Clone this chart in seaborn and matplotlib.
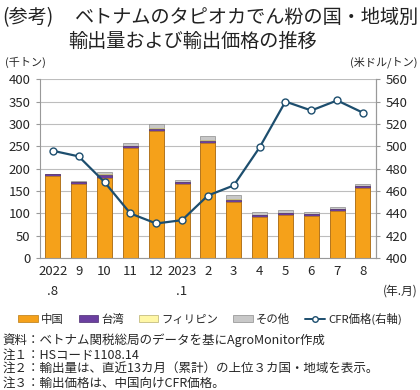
import numpy as np
import pandas as pd
import matplotlib
matplotlib.use("Agg")
import matplotlib.pyplot as plt
from matplotlib.patches import Patch
from matplotlib.lines import Line2D
import seaborn as sns

# --- data ---
months = ["2022\n.8", "9", "10", "11", "12", "2023\n.1", "2", "3", "4", "5", "6", "7", "8"]
china = [184, 166, 180, 246, 285, 166, 257, 125, 91, 97, 94, 105, 157]
taiwan = [4, 4, 5, 4, 4, 4, 5, 6, 6, 4, 4, 4, 4]
philippines = [0, 0, 3, 1, 1, 0, 3, 1, 0, 0, 0, 0, 0]
others = [1, 3, 4, 6, 9, 4, 8, 10, 7, 6, 6, 6, 5]
cfr_price = [496, 491, 468, 440, 431, 434, 456, 465, 499, 540, 532, 541, 530]

series_names = ["中国", "台湾", "フィリピン", "その他"]
colors = ["#F5A11A", "#6B3FA0", "#FFF7A6", "#C8C8C8"]
edges = ["#B97A10", "#4A2A70", "#B8B070", "#8C8C8C"]
line_color = "#1D4E6E"

sns.set_style("white")
plt.rcParams["font.family"] = ["Noto Sans CJK JP", "DejaVu Sans"]

df = pd.DataFrame({"month": months, "中国": china, "台湾": taiwan,
                   "フィリピン": philippines, "その他": others})

fig = plt.figure(figsize=(4.2, 3.9), dpi=100)
ax = fig.add_axes([0.095, 0.338, 0.80, 0.459])

# stacked bars: draw cumulative totals from the top layer down
cum = df[series_names].cumsum(axis=1)
for name, c, e in reversed(list(zip(series_names, colors, edges))):
    sns.barplot(x=df["month"], y=cum[name], color=c, edgecolor=e, linewidth=0.5,
                width=0.58, saturation=1, ax=ax, zorder=2)

ax.set_ylim(0, 400)
ax.set_yticks(np.arange(0, 401, 50))
ax.set_xlim(-0.5, len(months) - 0.5)
ax.set_xlabel("")
ax.set_ylabel("")
ax.yaxis.grid(True, color="#BDBDBD", linewidth=0.8, zorder=0)
ax.set_axisbelow(True)
ax.tick_params(axis="y", labelsize=9.5, length=3, color="#999999", pad=4)
ax.tick_params(axis="x", labelsize=9.5, length=0, pad=5)
for lab in ax.get_xticklabels():
    lab.set_linespacing(1.7)
    lab.set_verticalalignment("top")
ax.set_xticks(np.arange(-0.5, len(months)), minor=True)
ax.tick_params(axis="x", which="minor", length=3, color="#999999")
for side in ["left", "right", "bottom"]:
    ax.spines[side].set_color("#999999")
    ax.spines[side].set_linewidth(0.8)
ax.spines["top"].set_visible(False)

ax2 = ax.twinx()
sns.lineplot(x=np.arange(len(months)), y=cfr_price, ax=ax2, color=line_color,
             linewidth=1.6, marker="o", markersize=5, markerfacecolor="white",
             markeredgecolor=line_color, markeredgewidth=1.0, zorder=5)
ax2.set_ylim(400, 560)
ax2.set_yticks(np.arange(400, 561, 20))
ax2.set_xlim(-0.5, len(months) - 0.5)
ax2.tick_params(axis="y", labelsize=9.5, length=3, color="#999999", pad=4)
ax2.set_ylabel("")
for side in ["top", "left", "bottom"]:
    ax2.spines[side].set_visible(False)
ax2.spines["right"].set_color("#999999")

# titles and unit labels
fig.text(0.006, 0.955, "(参考)", fontsize=13.8,
         ha="left", va="center", color="#222222")
fig.text(0.178, 0.955, "ベトナムのタピオカでん粉の国・地域別", fontsize=13.8,
         ha="left", va="center", color="#222222")
fig.text(0.162, 0.893, "輸出量および輸出価格の推移", fontsize=13.8,
         ha="left", va="center", color="#222222")
fig.text(0.012, 0.84, "(千トン)", fontsize=8, ha="left", va="center")
fig.text(0.995, 0.84, "(米ドル/トン)", fontsize=8, ha="right", va="center")
fig.text(0.995, 0.255, "(年.月)", fontsize=8.5, ha="right", va="center")

# legend
handles = [Patch(facecolor=c, edgecolor=e, linewidth=0.5) for c, e in zip(colors, edges)]
handles.append(Line2D([0], [0], color=line_color, linewidth=1.4, marker="o", markersize=4,
                      markerfacecolor="white", markeredgecolor=line_color))
labels = series_names + ["CFR価格(右軸)"]
fig.legend(handles, labels, loc="center", bbox_to_anchor=(0.5, 0.183), ncol=5,
           frameon=False, fontsize=8.2, handlelength=1.7, handleheight=0.5,
           handletextpad=0.3, columnspacing=1.3)

notes = ["資料：ベトナム関税総局のデータを基にAgroMonitor作成",
         "注１：HSコード1108.14",
         "注２：輸出量は、直近13カ月（累計）の上位３カ国・地域を表示。",
         "注３：輸出価格は、中国向けCFR価格。"]
for i, t in enumerate(notes):
    fig.text(0.005, 0.127 - i * 0.037, t, fontsize=9, ha="left", va="center")

fig.savefig("out.png", dpi=100)
